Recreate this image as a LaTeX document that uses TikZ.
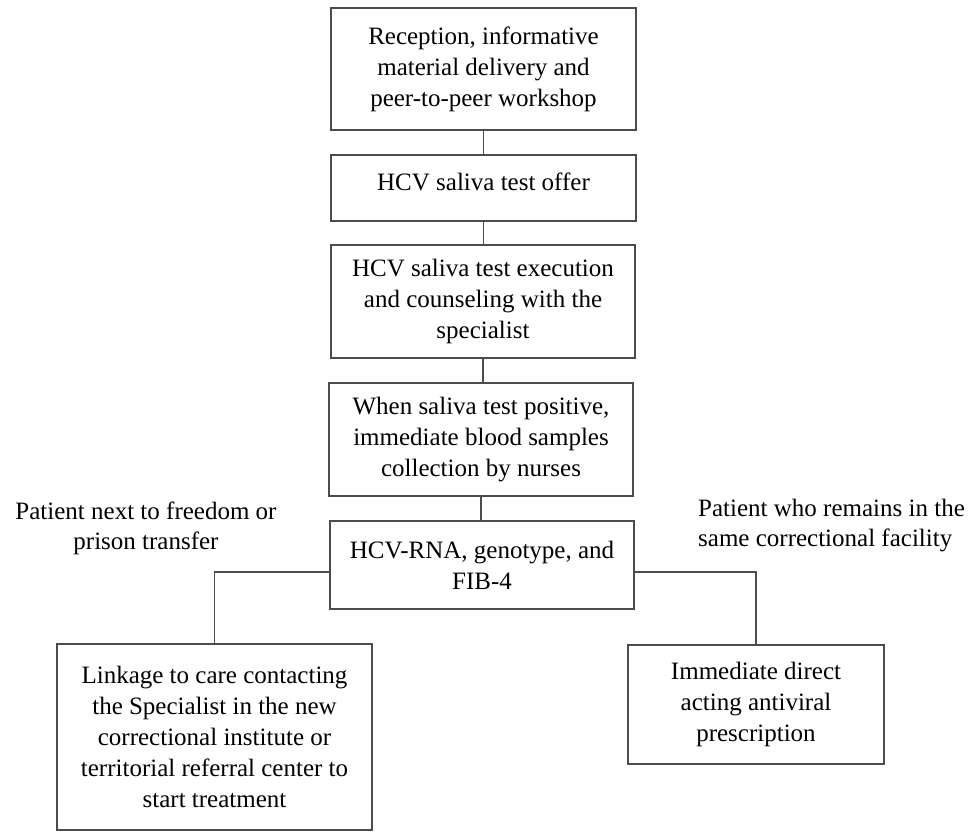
\documentclass[tikz,border=0pt]{standalone}
\usepackage{fontspec}
\setmainfont{Liberation Serif}
\begin{document}
\begin{tikzpicture}[x=1pt,y=-1pt,
  stepbox/.style={draw=black!70, line width=1.8pt, align=center, inner sep=0pt,
    font=\fontsize{25}{31}\selectfont, text=black},
  lbl/.style={inner sep=0pt, font=\fontsize{25}{30}\selectfont, text=black},
  conn/.style={draw=black!70, line width=1.8pt}]
\useasboundingbox (0,0) rectangle (968,833);
\node[stepbox, minimum width=305pt, minimum height=122pt] (b1) at (483.5,69)
  {Reception, informative\\material delivery and\\peer-to-peer workshop};
\node[stepbox, minimum width=305pt, minimum height=66pt, text depth=12pt] (b2) at (483.5,188)
  {HCV saliva test offer};
\node[stepbox, minimum width=304pt, minimum height=113pt] (b3) at (483,301.5)
  {HCV saliva test execution\\and counseling with the\\specialist};
\node[stepbox, minimum width=304pt, minimum height=113pt] (b4) at (481,439.5)
  {When saliva test positive,\\immediate blood samples\\collection by nurses};
\node[stepbox, minimum width=304pt, minimum height=88pt] (b5) at (482,565)
  {HCV-RNA, genotype, and\\FIB-4};
\node[stepbox, minimum width=315pt, minimum height=186pt] (lb) at (214.5,737)
  {Linkage to care contacting\\the Specialist in the new\\correctional institute or\\territorial referral center to\\start treatment};
\node[stepbox, minimum width=256pt, minimum height=119pt] (rb) at (756,704.5)
  {Immediate direct\\acting antiviral\\prescription};
\node[lbl, align=center] (ll) at (146,528) {Patient next to freedom or\\prison transfer};
\node[lbl, align=left, anchor=west] (rl) at (698,526) {Patient who remains in the\\same correctional facility};
\draw[conn] (b1.south) -- (b1.south |- b2.north);
\draw[conn] (b2.south) -- (b2.south |- b3.north);
\draw[conn] (b3.south) -- (b3.south |- b4.north);
\draw[conn] (b4.south) -- (b4.south |- b5.north);
\draw[conn] ([yshift=-7pt]b5.west) -| (lb.north);
\draw[conn] ([yshift=-7pt]b5.east) -| (rb.north);
\end{tikzpicture}
\end{document}
